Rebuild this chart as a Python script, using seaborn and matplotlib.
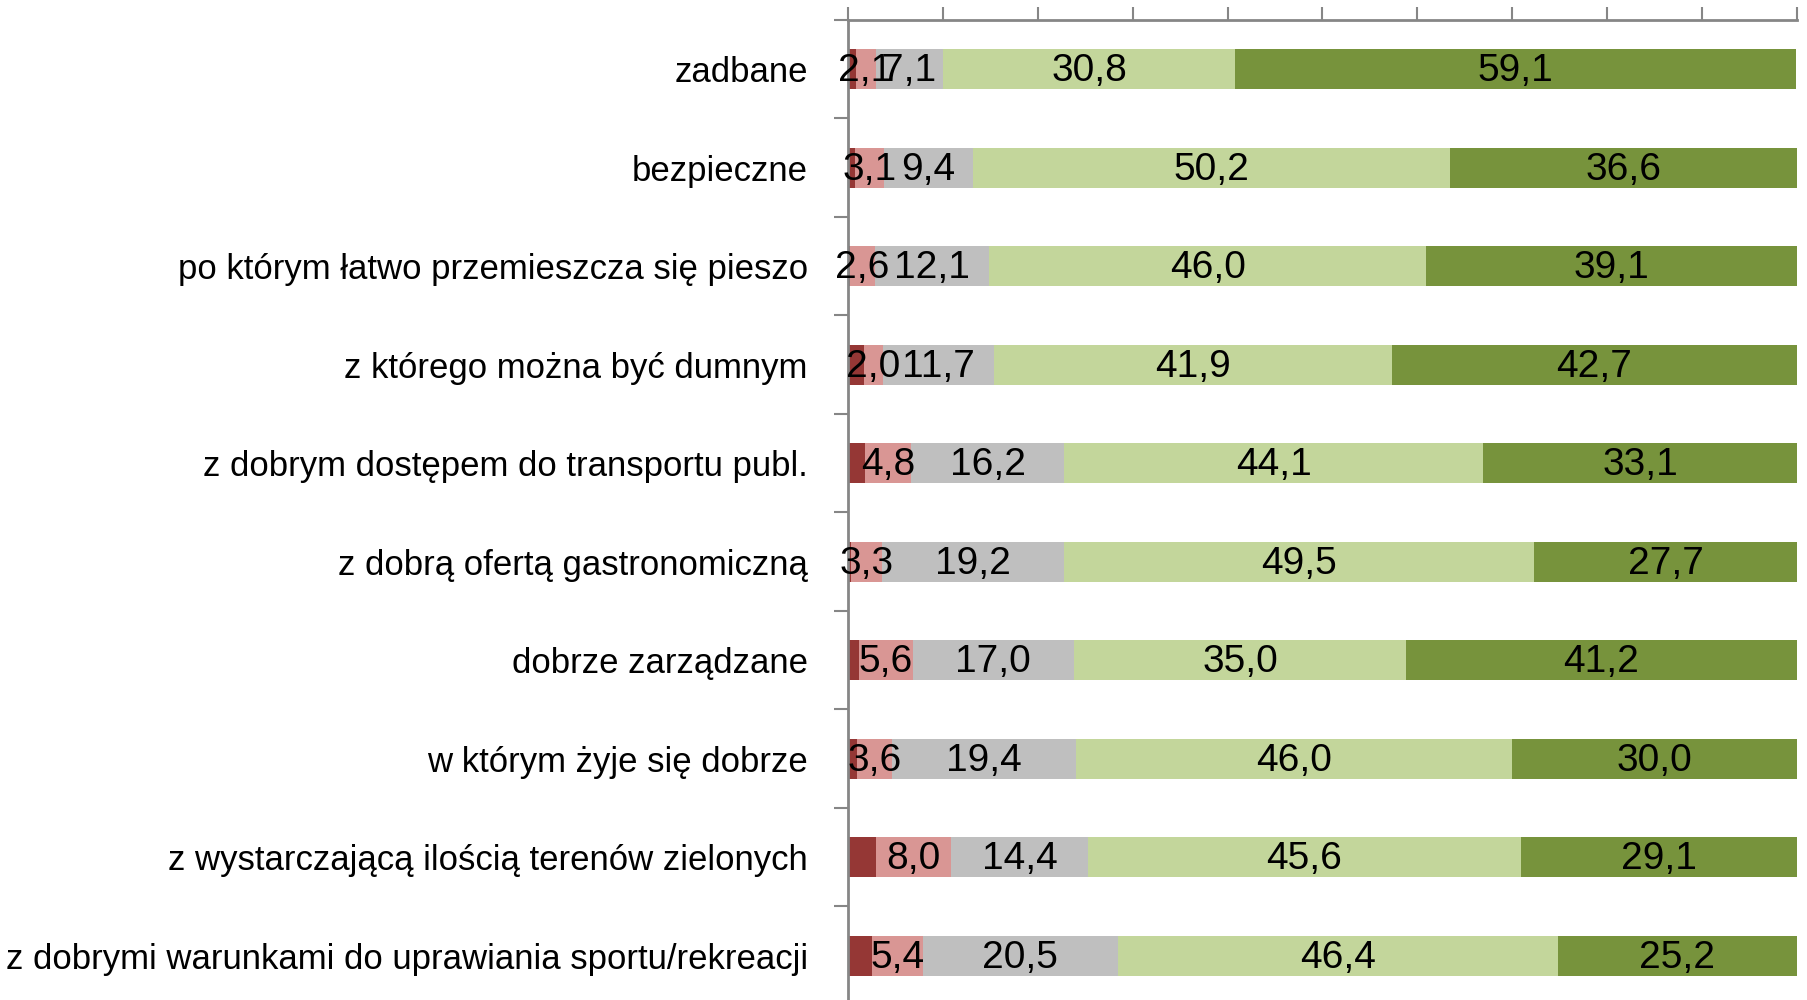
import matplotlib
matplotlib.use("Agg")
import matplotlib.pyplot as plt
from matplotlib.ticker import FixedLocator, MultipleLocator
import seaborn as sns
import pandas as pd
import numpy as np

categories = [
    "zadbane",
    "bezpieczne",
    "po którym łatwo przemieszcza się pieszo",
    "z którego można być dumnym",
    "z dobrym dostępem do transportu publ.",
    "z dobrą ofertą gastronomiczną",
    "dobrze zarządzane",
    "w którym żyje się dobrze",
    "z wystarczającą ilością terenów zielonych",
    "z dobrymi warunkami do uprawiania sportu/rekreacji",
]

# segments, left to right
zdecydowanie_nie = [0.8, 0.7, 0.2, 1.7, 1.8, 0.3, 1.2, 1.0, 2.9, 2.5]
raczej_nie = [2.1, 3.1, 2.6, 2.0, 4.8, 3.3, 5.6, 3.6, 8.0, 5.4]
trudno_powiedziec = [7.1, 9.4, 12.1, 11.7, 16.2, 19.2, 17.0, 19.4, 14.4, 20.5]
raczej_tak = [30.8, 50.2, 46.0, 41.9, 44.1, 49.5, 35.0, 46.0, 45.6, 46.4]
zdecydowanie_tak = [59.1, 36.6, 39.1, 42.7, 33.1, 27.7, 41.2, 30.0, 29.1, 25.2]

series = [zdecydowanie_nie, raczej_nie, trudno_powiedziec, raczej_tak, zdecydowanie_tak]
colors = ["#953735", "#D99694", "#BFBFBF", "#C3D69B", "#77933C"]
show_label = [False, True, True, True, True]

df = pd.DataFrame({"kategoria": categories})
for i, s in enumerate(series):
    df[f"s{i}"] = s
cum = df[[f"s{i}" for i in range(5)]].cumsum(axis=1)

sns.set_style("white")
plt.rcParams["font.family"] = ["Liberation Sans Narrow", "Liberation Sans", "DejaVu Sans"]

fig = plt.figure(figsize=(18.08, 10), dpi=100)
ax = fig.add_axes([848 / 1808, -0.005, (1797 - 848) / 1808, 0.985])

# draw cumulative bars from the longest to the shortest so they stack visually
for i in reversed(range(5)):
    sns.barplot(x=cum[f"s{i}"], y=df["kategoria"], orient="h", color=colors[i],
                width=0.41, linewidth=0, saturation=1, ax=ax)

# data labels centred in segments
for i in range(5):
    if not show_label[i]:
        continue
    left = cum[f"s{i}"] - df[f"s{i}"]
    for j, v in enumerate(df[f"s{i}"]):
        ax.text(left[j] + v / 2, j + 0.02, f"{v:.1f}".replace(".", ","), ha="center",
                va="center", fontsize=28, color="black")

ax.set_xlim(0, 100)
ax.set_ylim(len(categories) - 0.5, -0.5)
ax.set_xlabel("")
ax.set_ylabel("")

axis_col = "#868686"
for side in ["right", "bottom"]:
    ax.spines[side].set_visible(False)
for side in ["top", "left"]:
    ax.spines[side].set_visible(True)
    ax.spines[side].set_color(axis_col)
    ax.spines[side].set_linewidth(2)

ax.xaxis.set_ticks_position("top")
ax.xaxis.set_major_locator(MultipleLocator(10))
ax.tick_params(axis="x", which="major", direction="out", length=9.5, width=1.5,
               color=axis_col, labeltop=False, labelbottom=False)

ax.yaxis.set_minor_locator(FixedLocator(np.arange(-0.5, len(categories), 1.0)))
ax.tick_params(axis="y", which="minor", direction="out", length=10, width=1.5,
               color=axis_col, left=True)
ax.tick_params(axis="y", which="major", length=0, pad=29, labelsize=25,
               labelcolor="black")

fig.savefig("out.png", dpi=100)
